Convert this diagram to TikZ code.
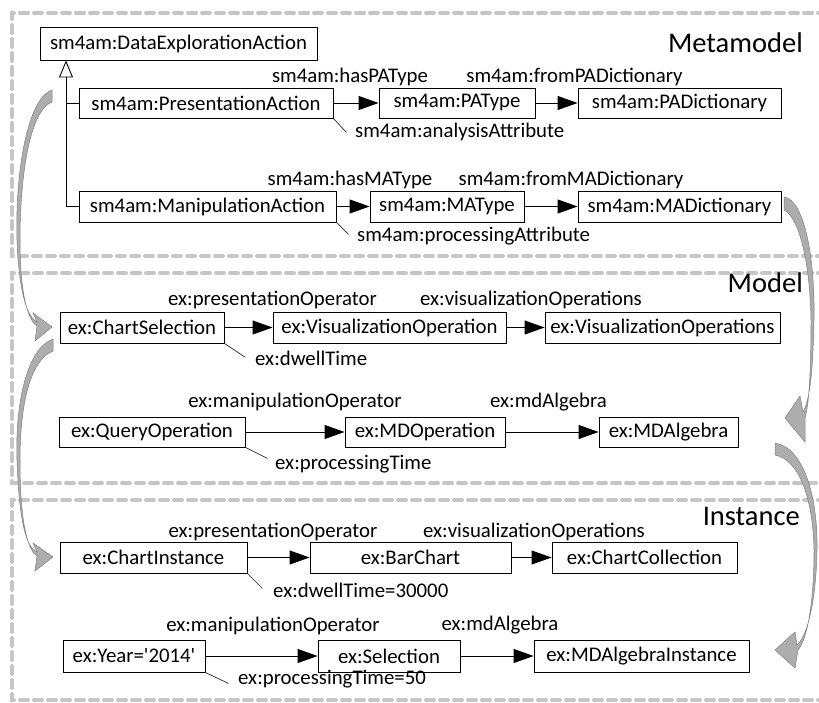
\documentclass[tikz,border=0pt]{standalone}
\usepackage{fontspec}
\setmainfont{Carlito}
\usetikzlibrary{arrows.meta}
\definecolor{dashgray}{HTML}{C6C6C6}
\definecolor{arrfill}{HTML}{ADADAD}
\definecolor{arredge}{HTML}{808080}
\begin{document}
\begin{tikzpicture}[x=1pt,y=-1pt,
  box/.style={draw=black, line width=0.9pt, fill=white, font=\fontsize{20.8}{24}\selectfont, inner sep=0pt, anchor=center, minimum height=31pt},
  lbl/.style={font=\fontsize{20.8}{24}\selectfont, inner sep=0pt, anchor=center},
  ttl/.style={font=\fontsize{28.5}{32}\selectfont, inner sep=0pt, anchor=east},
  frame/.style={draw=dashgray, line width=4pt, dash pattern=on 8pt off 6pt, line cap=round},
  rel/.style={line width=0.9pt, -{Triangle[length=20pt,width=14pt]}},
  gen/.style={line width=0.9pt, -{Triangle[open,length=17pt,width=14pt]}},
  attr/.style={line width=0.7pt, draw=black!85},
  curv/.style={fill=arrfill, draw=arredge, line width=0.5pt},
]
\useasboundingbox (0,0) rectangle (819,703);
\begin{scope}
\clip (0,0) rectangle (819,703);
% frames (open on the right, beyond the picture)
\draw[frame] (840,13) -- (12,13) -- (12,256) -- (840,256);
\draw[frame] (840,273) -- (12,273) -- (12,483) -- (840,483);
\draw[frame] (840,500) -- (12,500) -- (12,700) -- (840,700);
% curved arrows
\filldraw[curv] (52,90) .. controls (28,98) and (15,170) .. (17,240) .. controls (19,290) and (26,316) .. (37,322) -- (33,313) -- (52,327) -- (35,341) -- (37,326) .. controls (28,320) and (20,295) .. (20,240) .. controls (20,175) and (30,110) .. (52,102) -- cycle;
\filldraw[curv] (53,339) .. controls (28,348) and (15,400) .. (17,460) .. controls (19,520) and (26,548) .. (37,552) -- (33,543) -- (53,557) -- (35,571) -- (37,556) .. controls (28,550) and (20,525) .. (20,460) .. controls (20,405) and (30,360) .. (53,351) -- cycle;
\filldraw[curv] (784,197) .. controls (805,200) and (815,260) .. (814,320) .. controls (813,370) and (810,400) .. (803,412) -- (800,396) -- (785,418) -- (805,442) -- (805,418) .. controls (809,405) and (811,370) .. (811,320) .. controls (810,265) and (800,218) .. (784,210) -- cycle;
\filldraw[curv] (775,443) .. controls (805,448) and (818,500) .. (817,550) .. controls (816,600) and (808,635) .. (797,645) -- (795,632) -- (775,650) -- (795,668) -- (798,650) .. controls (808,638) and (814,600) .. (814,550) .. controls (813,500) and (800,460) .. (775,455) -- cycle;
\end{scope}
% titles
\node[ttl] (tmeta) at (803,43) {Metamodel};
\node[ttl] (tmodel) at (803,283) {Model};
\node[ttl] (tinst) at (800,516) {Instance};
% metamodel boxes
\node[box, minimum width=277pt, minimum height=33pt] (dea) at (178.5,43.5) {sm4am:DataExplorationAction};
\node[box, minimum width=254pt, minimum height=30pt] (pres) at (206,103) {sm4am:PresentationAction};
\node[box, minimum width=156pt, minimum height=30pt] (patype) at (457,103) {sm4am:PAType};
\node[box, minimum width=203pt, minimum height=30pt] (padict) at (679.5,103) {sm4am:PADictionary};
\node[box, minimum width=257pt] (manip) at (207.5,206.5) {sm4am:ManipulationAction};
\node[box, minimum width=154pt] (matype) at (447,206.5) {sm4am:MAType};
\node[box, minimum width=203pt] (madict) at (679.5,206.5) {sm4am:MADictionary};
% model boxes
\node[box, minimum width=164pt] (chsel) at (142,327.5) {ex:ChartSelection};
\node[box, minimum width=233pt] (visop) at (389.5,327.5) {ex:VisualizationOperation};
\node[box, minimum width=235pt] (visops) at (662.5,327.5) {ex:VisualizationOperations};
\node[box, minimum width=186pt, minimum height=30pt] (query) at (152,432) {ex:QueryOperation};
\node[box, minimum width=160pt, minimum height=30pt] (mdop) at (425,432) {ex:MDOperation};
\node[box, minimum width=139pt, minimum height=30pt] (mdalg) at (668.5,432) {ex:MDAlgebra};
% instance boxes
\node[box, minimum width=187pt] (chinst) at (153.5,557.5) {ex:ChartInstance};
\node[box, minimum width=201pt] (bar) at (410.5,557.5) {ex:BarChart};
\node[box, minimum width=185pt] (chcoll) at (644.5,557.5) {ex:ChartCollection};
\node[box, minimum width=142pt, minimum height=32pt] (year) at (134,656) {ex:Year=\textquotesingle2014\textquotesingle};
\node[box, minimum width=142pt, minimum height=32pt] (sel) at (389,656) {ex:Selection};
\node[box, minimum width=215pt, minimum height=32pt] (mdainst) at (641.5,656) {ex:MDAlgebraInstance};
% labels
\node[lbl] (l1) at (350,77) {sm4am:hasPAType};
\node[lbl] (l2) at (574.5,77) {sm4am:fromPADictionary};
\node[lbl, anchor=west] (l3) at (355,132) {sm4am:analysisAttribute};
\node[lbl] (l4) at (350,180) {sm4am:hasMAType};
\node[lbl] (l5) at (571,180) {sm4am:fromMADictionary};
\node[lbl, anchor=west] (l6) at (357,236) {sm4am:processingAttribute};
\node[lbl] (l7) at (272.5,300) {ex:presentationOperator};
\node[lbl] (l8) at (531,300) {ex:visualizationOperations};
\node[lbl, anchor=west] (l9) at (255,358) {ex:dwellTime};
\node[lbl] (l10) at (295,402) {ex:manipulationOperator};
\node[lbl] (l11) at (548.5,402) {ex:mdAlgebra};
\node[lbl, anchor=west] (l12) at (275,464) {ex:processingTime};
\node[lbl] (l13) at (273,532) {ex:presentationOperator};
\node[lbl] (l14) at (534,532) {ex:visualizationOperations};
\node[lbl, anchor=west] (l15) at (273,590) {ex:dwellTime=30000};
\node[lbl] (l16) at (273,626) {ex:manipulationOperator};
\node[lbl] (l17) at (500,625) {ex:mdAlgebra};
\node[lbl, anchor=west] (l18) at (238,679) {ex:processingTime=50};
% generalization
\coordinate (gx) at (66,0);
\draw[gen] (manip.west) -- (manip.west -| gx) -- (dea.south -| gx);
\draw[line width=0.9pt] (pres.west) -- (pres.west -| gx);
% relations
\draw[rel] (pres) -- (patype);
\draw[rel] (patype) -- (padict);
\draw[rel] (manip) -- (matype);
\draw[rel] (matype) -- (madict);
\draw[rel] (chsel) -- (visop);
\draw[rel] (visop) -- (visops);
\draw[rel] (query) -- (mdop);
\draw[rel] (mdop) -- (mdalg);
\draw[rel] (chinst) -- (bar);
\draw[rel] (bar) -- (chcoll);
\draw[rel] (year) -- (sel);
\draw[rel] (sel) -- (mdainst);
% attribute ticks
\coordinate (a1) at ([shift={(13,14)}]pres.south east);
\coordinate (a2) at ([shift={(12,12)}]manip.south east);
\coordinate (a3) at ([shift={(21,14)}]chsel.south east);
\coordinate (a4) at ([shift={(22,11)}]query.south east);
\coordinate (a5) at ([shift={(15,15)}]chinst.south east);
\coordinate (a6) at ([shift={(23,11)}]year.south east);
\draw[attr] (pres.south east) -- (a1);
\draw[attr] (manip.south east) -- (a2);
\draw[attr] (chsel.south east) -- (a3);
\draw[attr] (query.south east) -- (a4);
\draw[attr] (chinst.south east) -- (a5);
\draw[attr] (year.south east) -- (a6);
\end{tikzpicture}
\end{document}
